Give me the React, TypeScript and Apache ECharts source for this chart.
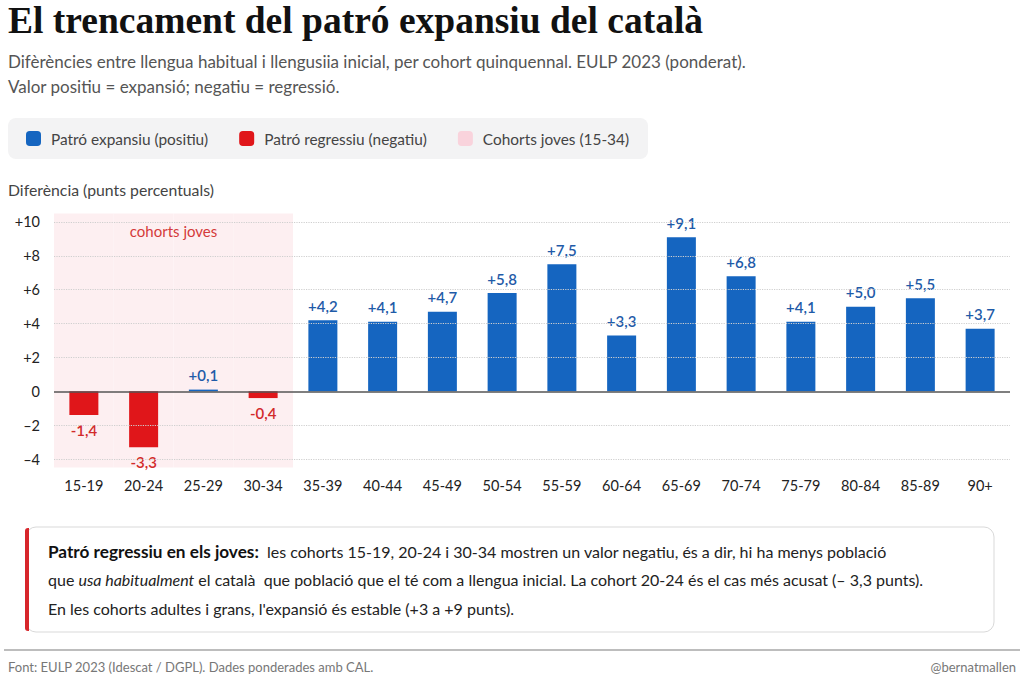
import React, { useEffect, useRef } from "react";
import * as echarts from "echarts";

const cohorts = ["15-19", "20-24", "25-29", "30-34", "35-39", "40-44", "45-49", "50-54", "55-59", "60-64", "65-69", "70-74", "75-79", "80-84", "85-89", "90+"];
const differences = [-1.4, -3.3, 0.1, -0.4, 4.2, 4.1, 4.7, 5.8, 7.5, 3.3, 9.1, 6.8, 4.1, 5.0, 5.5, 3.7];
const youngCohorts = ["15-19", "20-24", "25-29", "30-34"];
const yTicks = [-4, -2, 0, 2, 4, 6, 8, 10];
const yMin = -4.5;
const yMax = 10.5;

const SERIES_POS = "Patró expansiu (positiu)";
const SERIES_NEG = "Patró regressiu (negatiu)";
const SERIES_YOUNG = "Cohorts joves (15-34)";

const BLUE = "#1565c0";
const RED = "#e0161a";
const BLUE_TXT = "#1f5ba8";
const RED_TXT = "#d22a2a";
const FONT = "Lato, 'Noto Sans', sans-serif";

const fmtVal = (v: number) => (v > 0 ? "+" : v < 0 ? "-" : "") + Math.abs(v).toFixed(1).replace(".", ",");
const fmtTick = (v: number) => (v > 0 ? "+" + v : v < 0 ? "–" + Math.abs(v) : "0");

export default function App() {
  const ref = useRef<HTMLDivElement>(null);
  useEffect(() => {
    if (!ref.current) return;
    const chart = echarts.init(ref.current, null, { renderer: "svg" });
    const youngTop = cohorts.map((c) => (youngCohorts.includes(c) ? yMax : "-"));
    const youngBottom = cohorts.map((c) => (youngCohorts.includes(c) ? yMin : "-"));
    const gridLines = yTicks.filter((v) => v !== 0).map((v) => ({ yAxis: v }));
    const option: any = {
      animation: false,
      backgroundColor: "#ffffff",
      textStyle: { fontFamily: FONT },
      grid: { left: 54, right: 14, top: 213.5, bottom: 220.5, containLabel: false },
      legend: {
        left: 8,
        top: 118,
        padding: [13, 19, 13, 18],
        itemWidth: 15,
        itemHeight: 15,
        itemGap: 31,
        icon: "roundRect",
        backgroundColor: "#f3f3f4",
        borderRadius: 8,
        selectedMode: false,
        textStyle: { fontFamily: FONT, fontSize: 15.4, color: "#444", padding: [0, 0, 0, 5] },
        data: [
          { name: SERIES_POS },
          { name: SERIES_NEG },
          { name: SERIES_YOUNG, itemStyle: { color: "#f9d3dc" } },
        ],
      },
      xAxis: [
        {
          type: "category",
          data: cohorts,
          axisLine: { show: false, onZero: false },
          axisTick: { show: false },
          axisLabel: { fontFamily: FONT, fontSize: 14.5, color: "#222", margin: 10 },
          splitLine: { show: false },
        },
        { type: "category", data: cohorts, show: false },
      ],
      yAxis: {
        type: "value",
        min: yMin,
        max: yMax,
        axisLine: { show: false },
        axisTick: { show: false, customValues: yTicks },
        splitLine: { show: false },
        axisLabel: {
          customValues: yTicks,
          formatter: (v: number) => fmtTick(v),
          fontFamily: FONT,
          fontSize: 14.5,
          color: "#222",
          margin: 14,
        },
      },
      series: [
        {
          name: SERIES_YOUNG,
          type: "bar",
          xAxisIndex: 1,
          stack: "band",
          data: youngTop,
          barWidth: "100%",
          barCategoryGap: "0%",
          itemStyle: { color: "#fdeff1" },
          silent: true,
          z: 1,
          markLine: {
            silent: true,
            symbol: ["none", "none"],
            label: { show: false },
            lineStyle: { type: "dotted", color: "#cfcfcf", width: 1.2 },
            data: gridLines,
          },
        },
        {
          name: SERIES_YOUNG,
          type: "bar",
          xAxisIndex: 1,
          stack: "band",
          data: youngBottom,
          barWidth: "100%",
          barCategoryGap: "0%",
          itemStyle: { color: "#fdeff1" },
          silent: true,
          z: 1,
        },
        {
          name: SERIES_POS,
          type: "bar",
          xAxisIndex: 0,
          stack: "main",
          barWidth: 29,
          data: differences.map((v) => (v >= 0 ? v : "-")),
          itemStyle: { color: BLUE },
          z: 3,
          label: {
            show: true,
            position: "top",
            distance: 7,
            formatter: (p: any) => fmtVal(p.value),
            fontFamily: FONT,
            fontSize: 15,
            fontWeight: 600,
            color: BLUE_TXT,
          },
          markLine: {
            silent: true,
            symbol: ["none", "none"],
            label: { show: false },
            lineStyle: { type: "solid", color: "#555", width: 1.5 },
            data: [{ yAxis: 0 }],
          },
        },
        {
          name: SERIES_NEG,
          type: "bar",
          xAxisIndex: 0,
          stack: "main",
          barWidth: 29,
          data: differences.map((v) => (v < 0 ? v : "-")),
          itemStyle: { color: RED },
          z: 3,
          label: {
            show: true,
            position: "bottom",
            distance: 7,
            formatter: (p: any) => fmtVal(p.value),
            fontFamily: FONT,
            fontSize: 15,
            fontWeight: 600,
            color: RED_TXT,
          },
        },
      ],
    };
    chart.setOption(option);

    const x0 = chart.convertToPixel({ xAxisIndex: 0 }, youngCohorts[0]) as number;
    const x1 = chart.convertToPixel({ xAxisIndex: 0 }, youngCohorts[youngCohorts.length - 1]) as number;
    const bandCenter = (x0 + x1) / 2;

    chart.setOption({
      graphic: [
        {
          type: "text",
          left: 8,
          top: 1,
          style: {
            text: "El trencament del patró expansiu del català",
            font: "bold 37.5px 'Liberation Serif', 'DejaVu Serif', serif",
            fill: "#111",
          },
        },
        {
          type: "text",
          left: 8,
          top: 49,
          style: {
            text: "Difèrències entre llengua habitual i llengusiia inicial, per cohort quinquennal. EULP 2023 (ponderat).\nValor positiu = expansió; negatiu = regressió.",
            fontFamily: FONT,
            fontSize: 17,
            lineHeight: 25,
            fill: "#555",
          },
        },
        {
          type: "text",
          left: 8,
          top: 181,
          style: {
            text: "Diferència (punts percentuals)",
            fontFamily: FONT,
            fontSize: 15.8,
            fill: "#444",
          },
        },
        {
          type: "text",
          x: bandCenter,
          y: 231,
          z: 10,
          style: {
            text: "cohorts joves",
            fontFamily: FONT,
            fontSize: 15,
            fill: "#d43a3a",
            align: "center",
            verticalAlign: "middle",
          },
        },
        {
          type: "rect",
          shape: { x: 26, y: 527, width: 968, height: 105, r: 10 },
          style: { fill: "#ffffff", stroke: "#d9d9d9", lineWidth: 1 },
        },
        {
          type: "rect",
          shape: { x: 25, y: 528, width: 4, height: 103, r: [3, 0, 0, 3] },
          style: { fill: "#d7262b" },
        },
        {
          type: "text",
          x: 48,
          y: 537,
          style: {
            text:
              "{b|Patró regressiu en els joves:}  les cohorts 15-19, 20-24 i 30-34 mostren un valor negatiu, és a dir, hi ha menys població\n" +
              "que {i|usa habitualment} el català  que població que el té com a llengua inicial. La cohort 20-24 és el cas més acusat (– 3,3 punts).\n" +
              "En les cohorts adultes i grans, l'expansió és estable (+3 a +9 punts).",
            fontFamily: FONT,
            fontSize: 16,
            lineHeight: 28.5,
            fill: "#222",
            rich: {
              b: { fontFamily: FONT, fontSize: 17.2, fontWeight: "bold", fill: "#111", lineHeight: 28.5 },
              i: { fontFamily: FONT, fontSize: 16, fontStyle: "italic", fill: "#222", lineHeight: 28.5 },
            },
          },
        },
        {
          type: "line",
          shape: { x1: 4, y1: 650, x2: 1020, y2: 650 },
          style: { stroke: "#bdbdbd", lineWidth: 2 },
        },
        {
          type: "text",
          left: 8,
          top: 660,
          style: {
            text: "Font: EULP 2023 (Idescat / DGPL). Dades ponderades amb CAL.",
            fontFamily: FONT,
            fontSize: 13,
            fill: "#777",
          },
        },
        {
          type: "text",
          right: 8,
          top: 660,
          style: {
            text: "@bernatmallen",
            fontFamily: FONT,
            fontSize: 13,
            fill: "#777",
          },
        },
      ],
    });

    return () => chart.dispose();
  }, []);
  return (
    <div
      ref={ref}
      style={{ position: "fixed", left: 0, top: 0, width: 1024, height: 688, background: "#fff" }}
    />
  );
}
